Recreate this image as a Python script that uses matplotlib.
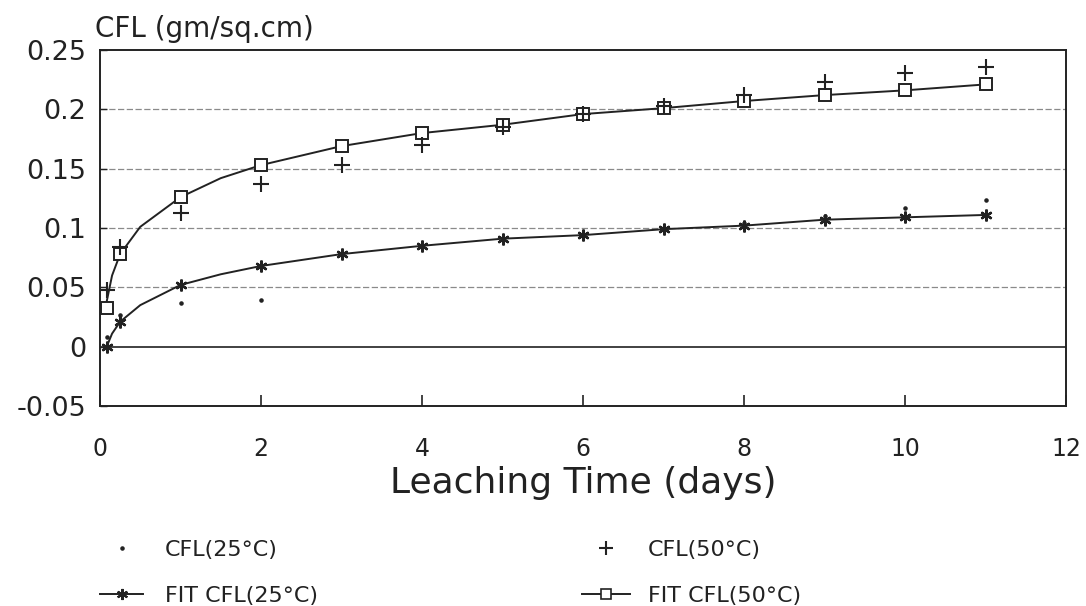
import matplotlib
matplotlib.use("Agg")
import matplotlib.pyplot as plt
from matplotlib.lines import Line2D

# ---- data ----
t = [0.083, 0.25, 1, 2, 3, 4, 5, 6, 7, 8, 9, 10, 11]
cfl25 = [0.008, 0.027, 0.037, 0.039, 0.079, 0.086, 0.091, 0.094, 0.100, 0.104, 0.110, 0.117, 0.124]
cfl50 = [0.048, 0.084, 0.113, 0.137, 0.153, 0.170, 0.185, 0.196, 0.203, 0.212, 0.223, 0.231, 0.236]
fit25 = [0.000, 0.021, 0.052, 0.068, 0.078, 0.085, 0.091, 0.094, 0.099, 0.102, 0.107, 0.109, 0.111]
fit50 = [0.033, 0.078, 0.126, 0.153, 0.169, 0.180, 0.187, 0.196, 0.201, 0.207, 0.212, 0.216, 0.221]

# fitted curves (smooth line)
curve_t = [0.083, 0.15, 0.25, 0.5, 1, 1.5, 2, 3, 4, 5, 6, 7, 8, 9, 10, 11]
curve25 = [0.000, 0.011, 0.021, 0.035, 0.052, 0.061, 0.068, 0.078, 0.085, 0.091, 0.094, 0.099, 0.102, 0.107, 0.109, 0.111]
curve50 = [0.038, 0.060, 0.078, 0.101, 0.126, 0.142, 0.153, 0.169, 0.180, 0.187, 0.196, 0.201, 0.207, 0.212, 0.216, 0.221]

xticks = [0, 2, 4, 6, 8, 10, 12]
yticks = [-0.05, 0, 0.05, 0.1, 0.15, 0.2, 0.25]
ytick_labels = ["-0.05", "0", "0.05", "0.1", "0.15", "0.2", "0.25"]

plt.rcParams['font.family'] = ['DejaVu Sans']
INK = '#222222'

fig = plt.figure(figsize=(10.86, 6.06), dpi=100)
W, H = 1086.0, 606.0
ax = fig.add_axes([100 / W, 1 - 406 / H, 966 / W, 356 / H])

ax.set_xlim(0, 12)
ax.set_ylim(-0.05, 0.25)

for y in yticks[2:-1]:
    ax.axhline(y, color='#8a8a8a', lw=0.9, ls=(0, (5, 2)), zorder=1)
ax.axhline(0, color='#333333', lw=1.3, zorder=1)

ax.plot(curve_t, curve25, color=INK, lw=1.4, zorder=2)
ax.plot(curve_t, curve50, color=INK, lw=1.4, zorder=2)

ax.plot(t, fit25, ls='none', marker=(6, 2, 0), ms=8.5, mew=1.7, color=INK, zorder=3)
ax.plot(t, fit50, ls='none', marker='s', ms=8, mfc='white', mec=INK, mew=1.4, zorder=3)
ax.plot(t, cfl25, ls='none', marker='.', ms=4.5, color=INK, zorder=4)
ax.plot(t, cfl50, ls='none', marker='+', ms=12, mew=1.5, color=INK, zorder=4)

ax.set_xticks(xticks)
ax.set_xticklabels([str(v) for v in xticks], fontsize=17)
ax.set_yticks(yticks)
ax.set_yticklabels(ytick_labels, fontsize=19.5)
ax.tick_params(axis='x', direction='in', length=8, width=1.2, pad=22, colors=INK)
ax.tick_params(axis='y', direction='in', length=5, width=1.0, pad=10, colors=INK)
for s in ax.spines.values():
    s.set_linewidth(1.4)
    s.set_color(INK)

fig.text(583 / W, 1 - 493 / H, "Leaching Time (days)", fontsize=26,
         ha='center', va='baseline', color=INK)
fig.text(95 / W, 1 - 37 / H, "CFL (gm/sq.cm)", fontsize=20, ha='left',
         va='baseline', color=INK)

fs = 16
em = fs * 100 / 72.0
h_dot = Line2D([], [], ls='none', marker='.', ms=4.5, color=INK)
h_fit25 = Line2D([], [], color=INK, lw=1.4, marker=(6, 2, 0), ms=8, mew=1.5)
h_plus = Line2D([], [], ls='none', marker='+', ms=10, mew=1.5, color=INK)
h_fit50 = Line2D([], [], color=INK, lw=1.4, marker='s', ms=6.5, mfc='white', mec=INK, mew=1.2)

leg1 = fig.legend([h_dot, h_fit25], ["CFL(25°C)", "FIT CFL(25°C)"],
                  loc='upper left', bbox_to_anchor=(100 / W, 1 - 540 / H),
                  frameon=False, fontsize=fs, borderpad=0, borderaxespad=0,
                  handlelength=43 / em, handletextpad=22 / em, labelspacing=1.15)
leg2 = fig.legend([h_plus, h_fit50], ["CFL(50°C)", "FIT CFL(50°C)"],
                  loc='upper left', bbox_to_anchor=(582 / W, 1 - 540 / H),
                  frameon=False, fontsize=fs, borderpad=0, borderaxespad=0,
                  handlelength=48 / em, handletextpad=18 / em, labelspacing=1.15)
for lg in (leg1, leg2):
    for txt in lg.get_texts():
        txt.set_color(INK)

fig.savefig("out.png", dpi=100)
